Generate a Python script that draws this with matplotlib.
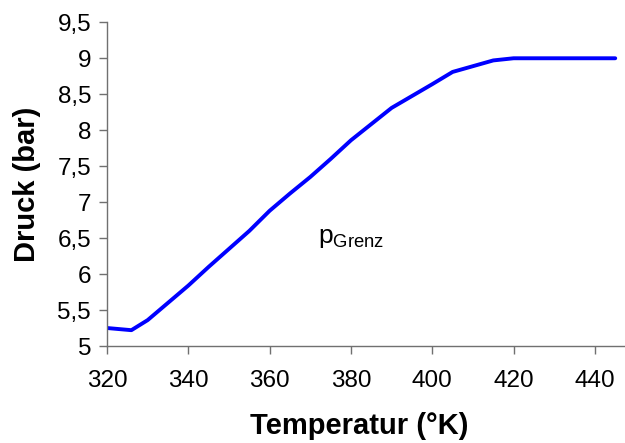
import matplotlib
matplotlib.use("Agg")
import matplotlib.pyplot as plt

temperature = [320, 326, 330, 335, 340, 345, 350, 355, 360, 365, 370, 375, 380, 390, 400, 405, 415, 420, 445]
pressure = [5.25, 5.22, 5.36, 5.60, 5.84, 6.10, 6.35, 6.60, 6.88, 7.12, 7.35, 7.60, 7.86, 8.31, 8.64, 8.81, 8.97, 9.00, 9.00]
x_ticks = [320, 340, 360, 380, 400, 420, 440]
y_ticks = [5, 5.5, 6, 6.5, 7, 7.5, 8, 8.5, 9, 9.5]
y_labels = ["5", "5,5", "6", "6,5", "7", "7,5", "8", "8,5", "9", "9,5"]

plt.rcParams['font.family'] = ['Liberation Sans', 'DejaVu Sans']

fig = plt.figure(figsize=(6.25, 4.43), dpi=100)
ax = fig.add_axes([107/625, 1-346/443, 1-107/625, (346-22.3)/443])
ax.plot(temperature, pressure, color='#0000ff', lw=2.8, solid_capstyle='round', solid_joinstyle='round')
ax.set_xlim(320, 447.4)
ax.set_ylim(5, 9.5)
ax.set_xticks(x_ticks)
ax.set_yticks(y_ticks)
ax.set_yticklabels(y_labels)
for s in ['top', 'right']:
    ax.spines[s].set_visible(False)
for s in ['left', 'bottom']:
    ax.spines[s].set_color('#707070')
    ax.spines[s].set_linewidth(1.0)
ax.tick_params(axis='both', direction='out', length=5.5, width=1.0, color='#707070', labelsize=17.5, pad=6)
ax.tick_params(axis='x', pad=12)
ax.set_xlabel('Temperatur (°K)', fontsize=21, fontweight='bold')
ax.xaxis.set_label_coords(0.487, -0.205)
ax.set_ylabel('Druck (bar)', fontsize=21, fontweight='bold', labelpad=12)
ax.text(372.0, 6.5, r'p$_{\mathregular{Grenz}}$', fontsize=19, va='center', ha='left')
fig.savefig('out.png', dpi=100)
